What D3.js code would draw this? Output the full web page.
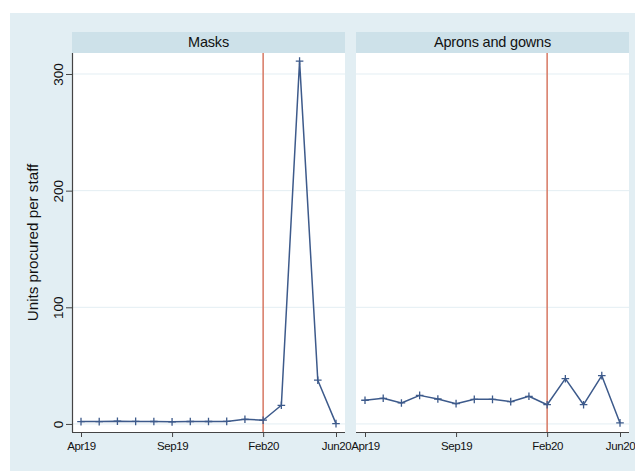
<!DOCTYPE html>
<html><head><meta charset="utf-8">
<script src="https://cdn.jsdelivr.net/npm/d3@7"></script>
<style>body{margin:0;background:#fff}svg{display:block}text{font-family:"Liberation Sans",Arial,sans-serif}</style>
</head><body><svg id="c" width="635" height="471"></svg>
<script>
const months = ["Apr19","May19","Jun19","Jul19","Aug19","Sep19","Oct19","Nov19","Dec19","Jan20","Feb20","Mar20","Apr20","May20","Jun20"];
const masks = [2,2,2.3,2.2,2.1,1.8,2.1,2.1,2.2,4,3.2,16,311,37.5,0.3];
const aprons = [20.3,22,18,24.5,21.4,17.4,21.1,21.1,19.1,23.7,16.5,38.8,16.5,41.4,0.9];
const panelTitles = ["Masks","Aprons and gowns"];
const xTickLabels = ["Apr19","Sep19","Feb20","Jun20"];
const yTicks = [0,100,200,300];
const eventMonth = "Feb20";

const svg = d3.select("#c");
svg.append("rect").attr("x",10).attr("y",13).attr("width",625).attr("height",458).attr("fill","#e2eef3");

const plotTop = 53, plotBottom = 432;
const y = d3.scaleLinear().domain([-6.9,318]).range([plotBottom, plotTop]);
const panels = [{x0:72,x1:345,data:masks},{x0:356,x1:629,data:aprons}];
const navy = "#3d5a8b";
const ff = "Liberation Sans, Arial, sans-serif";

panels.forEach((p,i)=>{
  const g = svg.append("g");
  g.append("rect").attr("x",p.x0).attr("y",32).attr("width",p.x1-p.x0).attr("height",plotTop-32).attr("fill","#cde1e9");
  g.append("text").attr("x",(p.x0+p.x1)/2).attr("y",46.5).attr("text-anchor","middle").attr("font-size",14.5).attr("letter-spacing","-0.2").attr("fill","#111").text(panelTitles[i]);
  g.append("rect").attr("x",p.x0).attr("y",plotTop).attr("width",p.x1-p.x0).attr("height",plotBottom-plotTop).attr("fill","#fff");
  const x = d3.scaleLinear().domain([0,months.length-1]).range([p.x0+9,p.x1-9]);
  g.selectAll(".grid").data(yTicks).enter().append("line")
    .attr("x1",p.x0).attr("x2",p.x1).attr("y1",d=>y(d)).attr("y2",d=>y(d))
    .attr("stroke","#e3eef3").attr("stroke-width",1);
  const ex = x(months.indexOf(eventMonth));
  g.append("line").attr("x1",ex).attr("x2",ex).attr("y1",plotTop).attr("y2",plotBottom).attr("stroke","#d9806c").attr("stroke-width",1.6);
  const line = d3.line().x((d,j)=>x(j)).y(d=>y(d));
  g.append("path").datum(p.data).attr("d",line).attr("fill","none").attr("stroke",navy).attr("stroke-width",1.5).attr("stroke-linejoin","round");
  const ms = 3.8;
  g.selectAll(".m").data(p.data).enter().append("path")
    .attr("d",(d,j)=>`M${x(j)-ms},${y(d)}H${x(j)+ms}M${x(j)},${y(d)-ms}V${y(d)+ms}`)
    .attr("stroke",navy).attr("stroke-width",1.3).attr("fill","none");
  const xa = d3.axisBottom(x).tickValues(xTickLabels.map(l=>months.indexOf(l))).tickFormat(j=>months[j]).tickSize(5).tickSizeOuter(0);
  const ax = g.append("g").attr("transform",`translate(0,${plotBottom})`).call(xa);
  ax.select(".domain").attr("d",`M${p.x0},0.5H${p.x1}`).attr("stroke","#444").attr("stroke-width",1.2);
  ax.selectAll(".tick line").attr("stroke","#444");
  ax.selectAll(".tick text").attr("font-size",11.5).attr("fill","#111").attr("y",17.5).attr("dy",0).style("font-family",ff).attr("letter-spacing","-0.4");
  if(i===0){
    const ya = d3.axisLeft(y).tickValues(yTicks).tickSize(6).tickSizeOuter(0);
    const ay = g.append("g").attr("transform",`translate(${p.x0},0)`).call(ya);
    ay.select(".domain").attr("d",`M0.5,${plotTop}V${plotBottom}`).attr("stroke","#444").attr("stroke-width",1.2);
    ay.selectAll(".tick line").attr("stroke","#444");
    ay.selectAll(".tick text").attr("font-size",13.5).attr("fill","#111")
      .attr("transform","rotate(-90)").attr("x",0).attr("y",-9.5).attr("dy",0).attr("text-anchor","middle")
      .style("font-family",ff);
    g.append("text").attr("transform",`translate(37.5,${(plotTop+plotBottom)/2}) rotate(-90)`).attr("text-anchor","middle")
      .attr("font-size",15.2).attr("fill","#111").text("Units procured per staff");
  }
});
</script></body></html>
